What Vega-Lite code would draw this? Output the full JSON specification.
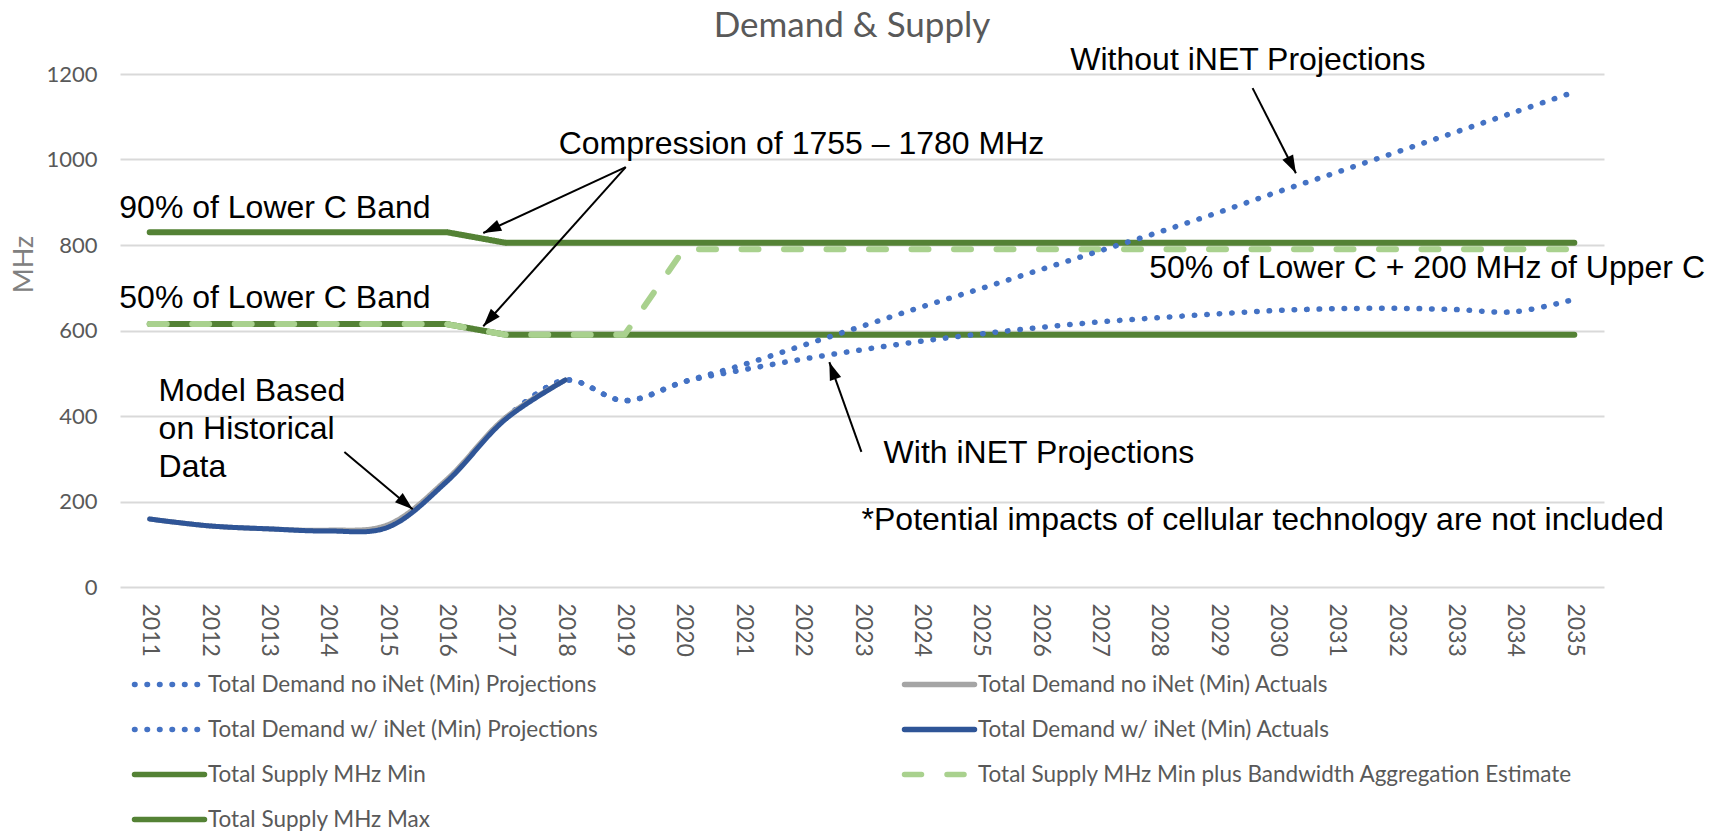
{
  "$schema": "https://vega.github.io/schema/vega-lite/v6.json",
  "width": 1484,
  "height": 513,
  "autosize": {"type": "none"},
  "padding": {"left": 120, "top": 74, "right": 121, "bottom": 245},
  "background": "white",
  "config": {
    "view": {"stroke": null},
    "font": "Lato",
    "axis": {"labelFont": "Lato", "titleFont": "Lato"}
  },
  "title": {
    "text": "Demand & Supply",
    "font": "Lato",
    "fontSize": 35,
    "fontWeight": "normal",
    "color": "#595959",
    "anchor": "middle",
    "frame": "group",
    "dx": -10,
    "offset": 0
  },
  "data": {
    "values": [
      {"series": "Total Supply MHz Min", "year": 2011, "value": 615},
      {"series": "Total Supply MHz Min", "year": 2012, "value": 615},
      {"series": "Total Supply MHz Min", "year": 2013, "value": 615},
      {"series": "Total Supply MHz Min", "year": 2014, "value": 615},
      {"series": "Total Supply MHz Min", "year": 2015, "value": 615},
      {"series": "Total Supply MHz Min", "year": 2016, "value": 615},
      {"series": "Total Supply MHz Min", "year": 2017, "value": 590},
      {"series": "Total Supply MHz Min", "year": 2018, "value": 590},
      {"series": "Total Supply MHz Min", "year": 2019, "value": 590},
      {"series": "Total Supply MHz Min", "year": 2020, "value": 590},
      {"series": "Total Supply MHz Min", "year": 2021, "value": 590},
      {"series": "Total Supply MHz Min", "year": 2022, "value": 590},
      {"series": "Total Supply MHz Min", "year": 2023, "value": 590},
      {"series": "Total Supply MHz Min", "year": 2024, "value": 590},
      {"series": "Total Supply MHz Min", "year": 2025, "value": 590},
      {"series": "Total Supply MHz Min", "year": 2026, "value": 590},
      {"series": "Total Supply MHz Min", "year": 2027, "value": 590},
      {"series": "Total Supply MHz Min", "year": 2028, "value": 590},
      {"series": "Total Supply MHz Min", "year": 2029, "value": 590},
      {"series": "Total Supply MHz Min", "year": 2030, "value": 590},
      {"series": "Total Supply MHz Min", "year": 2031, "value": 590},
      {"series": "Total Supply MHz Min", "year": 2032, "value": 590},
      {"series": "Total Supply MHz Min", "year": 2033, "value": 590},
      {"series": "Total Supply MHz Min", "year": 2034, "value": 590},
      {"series": "Total Supply MHz Min", "year": 2035, "value": 590},
      {"series": "Total Supply MHz Max", "year": 2011, "value": 830},
      {"series": "Total Supply MHz Max", "year": 2012, "value": 830},
      {"series": "Total Supply MHz Max", "year": 2013, "value": 830},
      {"series": "Total Supply MHz Max", "year": 2014, "value": 830},
      {"series": "Total Supply MHz Max", "year": 2015, "value": 830},
      {"series": "Total Supply MHz Max", "year": 2016, "value": 830},
      {"series": "Total Supply MHz Max", "year": 2017, "value": 805},
      {"series": "Total Supply MHz Max", "year": 2018, "value": 805},
      {"series": "Total Supply MHz Max", "year": 2019, "value": 805},
      {"series": "Total Supply MHz Max", "year": 2020, "value": 805},
      {"series": "Total Supply MHz Max", "year": 2021, "value": 805},
      {"series": "Total Supply MHz Max", "year": 2022, "value": 805},
      {"series": "Total Supply MHz Max", "year": 2023, "value": 805},
      {"series": "Total Supply MHz Max", "year": 2024, "value": 805},
      {"series": "Total Supply MHz Max", "year": 2025, "value": 805},
      {"series": "Total Supply MHz Max", "year": 2026, "value": 805},
      {"series": "Total Supply MHz Max", "year": 2027, "value": 805},
      {"series": "Total Supply MHz Max", "year": 2028, "value": 805},
      {"series": "Total Supply MHz Max", "year": 2029, "value": 805},
      {"series": "Total Supply MHz Max", "year": 2030, "value": 805},
      {"series": "Total Supply MHz Max", "year": 2031, "value": 805},
      {"series": "Total Supply MHz Max", "year": 2032, "value": 805},
      {"series": "Total Supply MHz Max", "year": 2033, "value": 805},
      {"series": "Total Supply MHz Max", "year": 2034, "value": 805},
      {"series": "Total Supply MHz Max", "year": 2035, "value": 805},
      {"series": "Total Supply MHz Min plus Bandwidth Aggregation Estimate", "year": 2011, "value": 615},
      {"series": "Total Supply MHz Min plus Bandwidth Aggregation Estimate", "year": 2012, "value": 615},
      {"series": "Total Supply MHz Min plus Bandwidth Aggregation Estimate", "year": 2013, "value": 615},
      {"series": "Total Supply MHz Min plus Bandwidth Aggregation Estimate", "year": 2014, "value": 615},
      {"series": "Total Supply MHz Min plus Bandwidth Aggregation Estimate", "year": 2015, "value": 615},
      {"series": "Total Supply MHz Min plus Bandwidth Aggregation Estimate", "year": 2016, "value": 615},
      {"series": "Total Supply MHz Min plus Bandwidth Aggregation Estimate", "year": 2017, "value": 590},
      {"series": "Total Supply MHz Min plus Bandwidth Aggregation Estimate", "year": 2018, "value": 590},
      {"series": "Total Supply MHz Min plus Bandwidth Aggregation Estimate", "year": 2019, "value": 590},
      {"series": "Total Supply MHz Min plus Bandwidth Aggregation Estimate", "year": 2020, "value": 790},
      {"series": "Total Supply MHz Min plus Bandwidth Aggregation Estimate", "year": 2021, "value": 790},
      {"series": "Total Supply MHz Min plus Bandwidth Aggregation Estimate", "year": 2022, "value": 790},
      {"series": "Total Supply MHz Min plus Bandwidth Aggregation Estimate", "year": 2023, "value": 790},
      {"series": "Total Supply MHz Min plus Bandwidth Aggregation Estimate", "year": 2024, "value": 790},
      {"series": "Total Supply MHz Min plus Bandwidth Aggregation Estimate", "year": 2025, "value": 790},
      {"series": "Total Supply MHz Min plus Bandwidth Aggregation Estimate", "year": 2026, "value": 790},
      {"series": "Total Supply MHz Min plus Bandwidth Aggregation Estimate", "year": 2027, "value": 790},
      {"series": "Total Supply MHz Min plus Bandwidth Aggregation Estimate", "year": 2028, "value": 790},
      {"series": "Total Supply MHz Min plus Bandwidth Aggregation Estimate", "year": 2029, "value": 790},
      {"series": "Total Supply MHz Min plus Bandwidth Aggregation Estimate", "year": 2030, "value": 790},
      {"series": "Total Supply MHz Min plus Bandwidth Aggregation Estimate", "year": 2031, "value": 790},
      {"series": "Total Supply MHz Min plus Bandwidth Aggregation Estimate", "year": 2032, "value": 790},
      {"series": "Total Supply MHz Min plus Bandwidth Aggregation Estimate", "year": 2033, "value": 790},
      {"series": "Total Supply MHz Min plus Bandwidth Aggregation Estimate", "year": 2034, "value": 790},
      {"series": "Total Supply MHz Min plus Bandwidth Aggregation Estimate", "year": 2035, "value": 790},
      {"series": "Total Demand no iNet (Min) Projections", "year": 2017, "value": 395},
      {"series": "Total Demand no iNet (Min) Projections", "year": 2018, "value": 484},
      {"series": "Total Demand no iNet (Min) Projections", "year": 2019, "value": 436},
      {"series": "Total Demand no iNet (Min) Projections", "year": 2020, "value": 480},
      {"series": "Total Demand no iNet (Min) Projections", "year": 2021, "value": 520},
      {"series": "Total Demand no iNet (Min) Projections", "year": 2022, "value": 565},
      {"series": "Total Demand no iNet (Min) Projections", "year": 2023, "value": 610},
      {"series": "Total Demand no iNet (Min) Projections", "year": 2024, "value": 655},
      {"series": "Total Demand no iNet (Min) Projections", "year": 2025, "value": 698},
      {"series": "Total Demand no iNet (Min) Projections", "year": 2026, "value": 742},
      {"series": "Total Demand no iNet (Min) Projections", "year": 2027, "value": 786},
      {"series": "Total Demand no iNet (Min) Projections", "year": 2028, "value": 830},
      {"series": "Total Demand no iNet (Min) Projections", "year": 2029, "value": 876},
      {"series": "Total Demand no iNet (Min) Projections", "year": 2030, "value": 924},
      {"series": "Total Demand no iNet (Min) Projections", "year": 2031, "value": 970},
      {"series": "Total Demand no iNet (Min) Projections", "year": 2032, "value": 1017},
      {"series": "Total Demand no iNet (Min) Projections", "year": 2033, "value": 1064},
      {"series": "Total Demand no iNet (Min) Projections", "year": 2034, "value": 1111},
      {"series": "Total Demand no iNet (Min) Projections", "year": 2035, "value": 1158},
      {"series": "Total Demand w/ iNet (Min) Projections", "year": 2017, "value": 395},
      {"series": "Total Demand w/ iNet (Min) Projections", "year": 2018, "value": 484},
      {"series": "Total Demand w/ iNet (Min) Projections", "year": 2019, "value": 436},
      {"series": "Total Demand w/ iNet (Min) Projections", "year": 2020, "value": 480},
      {"series": "Total Demand w/ iNet (Min) Projections", "year": 2021, "value": 508},
      {"series": "Total Demand w/ iNet (Min) Projections", "year": 2022, "value": 533},
      {"series": "Total Demand w/ iNet (Min) Projections", "year": 2023, "value": 555},
      {"series": "Total Demand w/ iNet (Min) Projections", "year": 2024, "value": 575},
      {"series": "Total Demand w/ iNet (Min) Projections", "year": 2025, "value": 592},
      {"series": "Total Demand w/ iNet (Min) Projections", "year": 2026, "value": 607},
      {"series": "Total Demand w/ iNet (Min) Projections", "year": 2027, "value": 620},
      {"series": "Total Demand w/ iNet (Min) Projections", "year": 2028, "value": 630},
      {"series": "Total Demand w/ iNet (Min) Projections", "year": 2029, "value": 639},
      {"series": "Total Demand w/ iNet (Min) Projections", "year": 2030, "value": 647},
      {"series": "Total Demand w/ iNet (Min) Projections", "year": 2031, "value": 651},
      {"series": "Total Demand w/ iNet (Min) Projections", "year": 2032, "value": 652},
      {"series": "Total Demand w/ iNet (Min) Projections", "year": 2033, "value": 649},
      {"series": "Total Demand w/ iNet (Min) Projections", "year": 2034, "value": 644},
      {"series": "Total Demand w/ iNet (Min) Projections", "year": 2035, "value": 673},
      {"series": "Total Demand no iNet (Min) Actuals", "year": 2011, "value": 159},
      {"series": "Total Demand no iNet (Min) Actuals", "year": 2012, "value": 143},
      {"series": "Total Demand no iNet (Min) Actuals", "year": 2013, "value": 136},
      {"series": "Total Demand no iNet (Min) Actuals", "year": 2014, "value": 133},
      {"series": "Total Demand no iNet (Min) Actuals", "year": 2015, "value": 145},
      {"series": "Total Demand no iNet (Min) Actuals", "year": 2016, "value": 251},
      {"series": "Total Demand no iNet (Min) Actuals", "year": 2017, "value": 397},
      {"series": "Total Demand no iNet (Min) Actuals", "year": 2018, "value": 484},
      {"series": "Total Demand w/ iNet (Min) Actuals", "year": 2011, "value": 159},
      {"series": "Total Demand w/ iNet (Min) Actuals", "year": 2012, "value": 143},
      {"series": "Total Demand w/ iNet (Min) Actuals", "year": 2013, "value": 136},
      {"series": "Total Demand w/ iNet (Min) Actuals", "year": 2014, "value": 131},
      {"series": "Total Demand w/ iNet (Min) Actuals", "year": 2015, "value": 139},
      {"series": "Total Demand w/ iNet (Min) Actuals", "year": 2016, "value": 246},
      {"series": "Total Demand w/ iNet (Min) Actuals", "year": 2017, "value": 393},
      {"series": "Total Demand w/ iNet (Min) Actuals", "year": 2018, "value": 484}
    ]
  },
  "encoding": {
    "x": {
      "field": "year",
      "type": "quantitative",
      "scale": {"domain": [2010.5, 2035.5], "nice": false, "zero": false},
      "axis": {
        "title": null,
        "values": [2011, 2012, 2013, 2014, 2015, 2016, 2017, 2018, 2019, 2020, 2021, 2022, 2023, 2024, 2025, 2026, 2027, 2028, 2029, 2030, 2031, 2032, 2033, 2034, 2035],
        "format": "d",
        "labelAngle": 90,
        "labelAlign": "left",
        "labelBaseline": "middle",
        "labelPadding": 16,
        "labelFontSize": 23,
        "labelColor": "#595959",
        "labelFlush": false,
        "labelOverlap": false,
        "ticks": false,
        "domain": false,
        "grid": false
      }
    },
    "y": {
      "field": "value",
      "type": "quantitative",
      "scale": {"domain": [0, 1200], "nice": false, "zero": true},
      "axis": {
        "title": "MHz",
        "titleFontSize": 27,
        "titleFontWeight": "normal",
        "titleColor": "#808080",
        "titleAngle": -90,
        "titleAlign": "center",
        "titleBaseline": "bottom",
        "titleX": -82,
        "titleY": 190,
        "values": [0, 200, 400, 600, 800, 1000, 1200],
        "format": "d",
        "labelFontSize": 22,
        "labelColor": "#595959",
        "labelPadding": 23,
        "ticks": false,
        "domain": false,
        "grid": true,
        "gridColor": "#D9D9D9",
        "gridWidth": 1.8
      }
    }
  },
  "layer": [
    {
      "transform": [{"filter": "datum.series == 'Total Supply MHz Min' || datum.series == 'Total Supply MHz Max'"}],
      "mark": {"type": "line", "strokeWidth": 6, "strokeCap": "round", "strokeJoin": "round"},
      "encoding": {
        "detail": {"field": "series", "type": "nominal"},
        "color": {
          "field": "series", "type": "nominal",
          "scale": {
            "domain": ["Total Demand no iNet (Min) Projections", "Total Demand w/ iNet (Min) Projections", "Total Supply MHz Min", "Total Supply MHz Max", "Total Demand no iNet (Min) Actuals", "Total Demand w/ iNet (Min) Actuals", "Total Supply MHz Min plus Bandwidth Aggregation Estimate"],
            "range": ["#4472C4", "#4472C4", "#548235", "#548235", "#A5A5A5", "#2F5597", "#A9D18E"]
          },
          "legend": {
            "orient": "none", "legendX": 35, "legendY": 596, "columns": 2, "title": null,
            "symbolType": "M-3,0L3,0", "symbolSize": 544, "symbolStrokeWidth": 5.5,
            "labelFont": "Lato", "labelFontSize": 22.5, "labelColor": "#595959", "labelOffset": 24, "labelLimit": 0,
            "columnPadding": 294, "rowPadding": 19, "padding": 0,
            "encode": {"symbols": {"update": {"strokeCap": {"value": "round"}}}}
          }
        },
        "strokeDash": {
          "field": "series", "type": "nominal",
          "scale": {
            "domain": ["Total Demand no iNet (Min) Projections", "Total Demand w/ iNet (Min) Projections", "Total Supply MHz Min", "Total Supply MHz Max", "Total Demand no iNet (Min) Actuals", "Total Demand w/ iNet (Min) Actuals", "Total Supply MHz Min plus Bandwidth Aggregation Estimate"],
            "range": [[0.5, 12], [0.5, 12], [1, 0], [1, 0], [1, 0], [1, 0], [17, 25.5]]
          },
          "legend": {
            "orient": "none", "legendX": 35, "legendY": 596, "columns": 2, "title": null,
            "symbolType": "M-3,0L3,0", "symbolSize": 544, "symbolStrokeWidth": 5.5,
            "labelFont": "Lato", "labelFontSize": 22.5, "labelColor": "#595959", "labelOffset": 24, "labelLimit": 0,
            "columnPadding": 294, "rowPadding": 19, "padding": 0,
            "encode": {"symbols": {"update": {"strokeCap": {"value": "round"}}}}
          }
        }
      }
    },
    {
      "transform": [{"filter": "datum.series == 'Total Supply MHz Min plus Bandwidth Aggregation Estimate'"}],
      "mark": {"type": "line", "strokeWidth": 6, "strokeCap": "round", "strokeJoin": "round"},
      "encoding": {
        "color": {"field": "series", "type": "nominal"},
        "strokeDash": {"field": "series", "type": "nominal"}
      }
    },
    {
      "transform": [{"filter": "datum.series == 'Total Demand no iNet (Min) Projections' || datum.series == 'Total Demand w/ iNet (Min) Projections'"}],
      "mark": {"type": "line", "strokeWidth": 5.5, "strokeCap": "round", "interpolate": "catmull-rom"},
      "encoding": {
        "detail": {"field": "series", "type": "nominal"},
        "color": {"field": "series", "type": "nominal"},
        "strokeDash": {"field": "series", "type": "nominal"}
      }
    },
    {
      "transform": [{"filter": "datum.series == 'Total Demand no iNet (Min) Actuals'"}],
      "mark": {"type": "line", "strokeWidth": 5, "strokeCap": "round", "interpolate": "catmull-rom"},
      "encoding": {
        "color": {"field": "series", "type": "nominal"},
        "strokeDash": {"field": "series", "type": "nominal"}
      }
    },
    {
      "transform": [{"filter": "datum.series == 'Total Demand w/ iNet (Min) Actuals'"}],
      "mark": {"type": "line", "strokeWidth": 5, "strokeCap": "round", "interpolate": "catmull-rom"},
      "encoding": {
        "color": {"field": "series", "type": "nominal"},
        "strokeDash": {"field": "series", "type": "nominal"}
      }
    },
    {
      "data": {"values": [
        {"id": "a1", "year": 2019.02, "value": 982, "year2": 2016.62, "value2": 828},
        {"id": "a2", "year": 2019.02, "value": 982, "year2": 2016.62, "value2": 610},
        {"id": "a3", "year": 2029.58, "value": 1167, "year2": 2030.31, "value2": 968},
        {"id": "a4", "year": 2022.99, "value": 316, "year2": 2022.45, "value2": 526},
        {"id": "a5", "year": 2014.28, "value": 316, "year2": 2015.43, "value2": 182}
      ]},
      "mark": {"type": "rule", "color": "black", "strokeWidth": 2},
      "encoding": {
        "x2": {"field": "year2"},
        "y2": {"field": "value2"}
      }
    },
    {
      "data": {"name": "heads", "values": [
        {"id": "a1", "year": 2016.62, "value": 828},
        {"id": "a2", "year": 2016.62, "value": 610},
        {"id": "a3", "year": 2030.31, "value": 968},
        {"id": "a4", "year": 2022.45, "value": 526},
        {"id": "a5", "year": 2015.43, "value": 182}
      ]},
      "layer": [
        {"transform": [{"filter": "datum.id == 'a1'"}], "mark": {"type": "point", "shape": "M0,0L-0.4,1.2L0.4,1.2Z", "filled": true, "color": "black", "opacity": 1, "size": 900, "angle": 245}},
        {"transform": [{"filter": "datum.id == 'a2'"}], "mark": {"type": "point", "shape": "M0,0L-0.4,1.2L0.4,1.2Z", "filled": true, "color": "black", "opacity": 1, "size": 900, "angle": 222}},
        {"transform": [{"filter": "datum.id == 'a3'"}], "mark": {"type": "point", "shape": "M0,0L-0.4,1.2L0.4,1.2Z", "filled": true, "color": "black", "opacity": 1, "size": 900, "angle": 153}},
        {"transform": [{"filter": "datum.id == 'a4'"}], "mark": {"type": "point", "shape": "M0,0L-0.4,1.2L0.4,1.2Z", "filled": true, "color": "black", "opacity": 1, "size": 900, "angle": 340}},
        {"transform": [{"filter": "datum.id == 'a5'"}], "mark": {"type": "point", "shape": "M0,0L-0.4,1.2L0.4,1.2Z", "filled": true, "color": "black", "opacity": 1, "size": 900, "angle": 130}}
      ]
    },
    {
      "data": {"values": [
        {"text": "Without iNET Projections", "year": 2029.5, "value": 1233},
        {"text": "Compression of 1755 – 1780 MHz", "year": 2021.98, "value": 1036},
        {"text": "90% of Lower C Band", "year": 2013.11, "value": 886},
        {"text": "50% of Lower C Band", "year": 2013.11, "value": 676},
        {"text": "50% of Lower C + 200 MHz of Upper C", "year": 2032.52, "value": 746},
        {"text": "With iNET Projections", "year": 2025.98, "value": 313},
        {"text": "*Potential impacts of cellular technology are not included", "year": 2029.75, "value": 157}
      ]},
      "mark": {"type": "text", "font": "Liberation Sans", "fontSize": 32, "color": "black", "align": "center", "baseline": "middle"},
      "encoding": {"text": {"field": "text", "type": "nominal"}}
    },
    {
      "data": {"values": [
        {"text": ["Model Based", "on Historical", "Data"], "year": 2011.15, "value": 458.5}
      ]},
      "mark": {"type": "text", "font": "Liberation Sans", "fontSize": 32, "color": "black", "align": "left", "baseline": "middle", "lineHeight": 38},
      "encoding": {"text": {"field": "text", "type": "nominal"}}
    }
  ]
}
